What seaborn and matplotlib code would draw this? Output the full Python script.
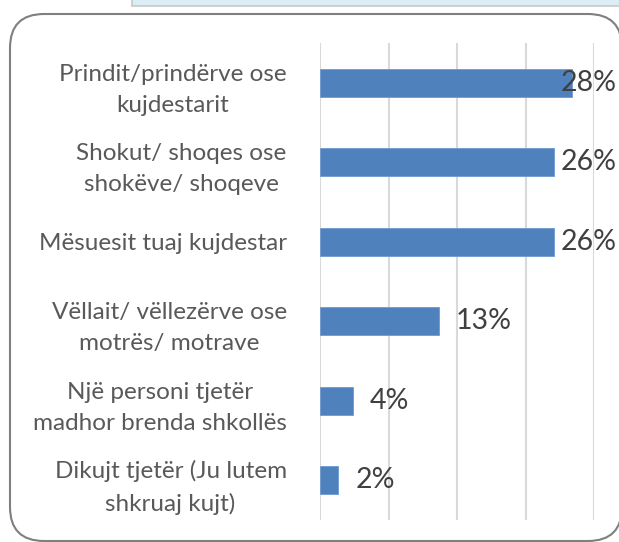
import matplotlib
matplotlib.use("Agg")
import matplotlib.pyplot as plt
import seaborn as sns
import pandas as pd
from matplotlib.patches import FancyBboxPatch, Rectangle

categories = [
    "Prindit/prindërve ose\nkujdestarit",
    "Shokut/ shoqes ose\nshokëve/ shoqeve",
    "Mësuesit tuaj kujdestar",
    "Vëllait/ vëllezërve ose\nmotrës/ motrave",
    "Një personi tjetër\nmadhor brenda shkollës",
    "Dikujt tjetër (Ju lutem\nshkruaj kujt)",
]
shares = [0.276, 0.256, 0.256, 0.13, 0.036, 0.02]
grid_ticks = [0, 0.075, 0.15, 0.225, 0.30]

sns.set_theme(style="white")
plt.rcParams["font.family"] = ["Lato", "DejaVu Sans"]

df = pd.DataFrame({"category": categories, "share": shares})

fig = plt.figure(figsize=(6.19, 5.42), dpi=100)

# light blue box peeking in at the top
fig.patches.append(Rectangle((132 / 619, 1 - 6 / 542), 1.0, 0.1, transform=fig.transFigure,
                             facecolor="#dbeef4", edgecolor="#c8c8c8", linewidth=1.2,
                             zorder=-2))

# rounded chart frame
fig.patches.append(FancyBboxPatch((10 / 619, 1 / 542), 612 / 619, 527 / 542,
                                  boxstyle="round,pad=0,rounding_size=0.055",
                                  transform=fig.transFigure, facecolor="white",
                                  edgecolor="#7f7f7f", linewidth=1.5,
                                  mutation_aspect=619 / 542, zorder=-1))

ax = fig.add_axes([320 / 619, 22 / 542, 274 / 619, 477 / 542])
ax.set_facecolor("none")
sns.barplot(data=df, y="category", x="share", orient="h", color="#4f81bd",
            width=0.35, saturation=1, ax=ax, edgecolor="#6f9ad0", linewidth=0.6)

ax.set_xlim(0, 0.30)
ax.set_xticks(grid_ticks)
ax.set_xticklabels([])
ax.xaxis.grid(True, color="#d9d9d9", linewidth=1.5)
ax.set_axisbelow(True)
for s in ax.spines.values():
    s.set_visible(False)
ax.tick_params(axis="both", length=0)
ax.set_xlabel("")
ax.set_ylabel("")
ax.set_yticks(range(len(categories)))
ax.set_yticklabels(categories, fontsize=17.5, color="#595959", multialignment="center",
                   linespacing=1.6)
ax.tick_params(axis="y", pad=24)

for i, v in enumerate(shares):
    x = min(v + 0.0185, 0.264)
    ax.text(x, i, f"{v:.0%}", ha="left", va="center", fontsize=20.5,
            color="#404040", clip_on=False)

fig.savefig("out.png", dpi=100)
